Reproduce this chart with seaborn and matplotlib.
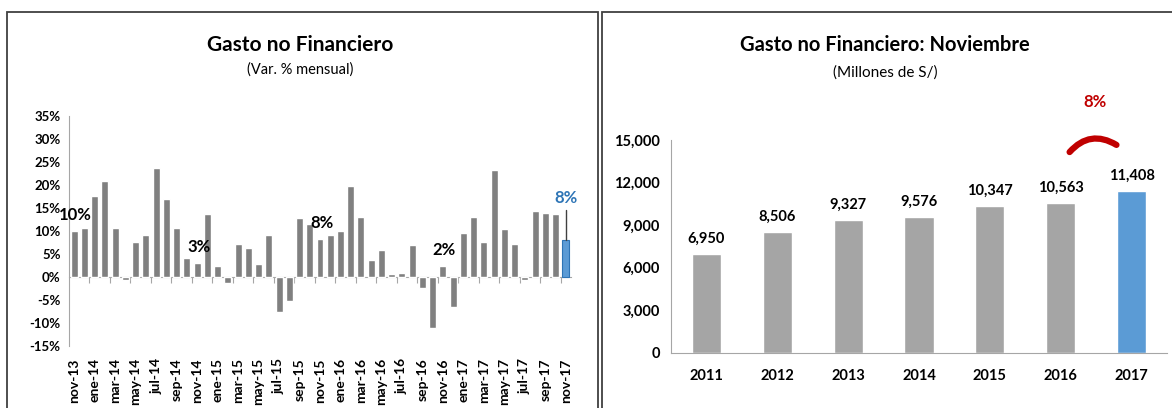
import numpy as np
import pandas as pd
import matplotlib
matplotlib.use("Agg")
import matplotlib.pyplot as plt
import seaborn as sns
from matplotlib.patches import Rectangle, FancyArrowPatch

# datos: variacion % mensual del gasto no financiero
meses = ['nov-13', 'dic-13', 'ene-14', 'feb-14', 'mar-14', 'abr-14', 'may-14', 'jun-14',
         'jul-14', 'ago-14', 'sep-14', 'oct-14', 'nov-14', 'dic-14', 'ene-15', 'feb-15',
         'mar-15', 'abr-15', 'may-15', 'jun-15', 'jul-15', 'ago-15', 'sep-15', 'oct-15',
         'nov-15', 'dic-15', 'ene-16', 'feb-16', 'mar-16', 'abr-16', 'may-16', 'jun-16',
         'jul-16', 'ago-16', 'sep-16', 'oct-16', 'nov-16', 'dic-16', 'ene-17', 'feb-17',
         'mar-17', 'abr-17', 'may-17', 'jun-17', 'jul-17', 'ago-17', 'sep-17', 'oct-17',
         'nov-17']
var_mensual = [9.9, 10.6, 17.6, 20.9, 10.6, -0.7, 7.5, 9.1, 23.7, 17.0, 10.6, 4.1, 2.9, 13.6,
               2.3, -1.3, 7.2, 6.3, 2.7, 9.1, -7.7, -5.3, 12.8, 11.4, 8.1, 9.1, 9.9, 19.7,
               13.0, 3.6, 5.7, 0.6, 0.8, 6.9, -2.5, -11.1, 2.3, -6.5, 9.6, 13.0, 7.5, 23.1,
               10.3, 7.2, -0.7, 14.3, 13.9, 13.6, 8.0]
meses_destacados = ['nov-13', 'nov-14', 'nov-15', 'nov-16']

# datos: gasto de noviembre (millones de S/)
anios = ['2011', '2012', '2013', '2014', '2015', '2016', '2017']
gasto_nov = [6950, 8506, 9327, 9576, 10347, 10563, 11408]
var_anual = '8%'

GRIS_OSC = '#808080'
GRIS = '#A5A5A5'
AZUL = '#5B9BD5'
ROJO = '#C00000'
EJE = '#A6A6A6'

sns.set_style("white")
plt.rcParams['font.family'] = ['Lato', 'DejaVu Sans']
plt.rcParams['text.color'] = 'black'
plt.rcParams['xtick.labelcolor'] = 'black'
plt.rcParams['ytick.labelcolor'] = 'black'

W, H = 1172, 408
fig = plt.figure(figsize=(W / 100, H / 100), dpi=100)

# marcos de los dos paneles
fig.patches.append(Rectangle((7 / W, -0.1), 591 / W, 1.1 - 12 / H, transform=fig.transFigure,
                             fill=False, edgecolor='#404040', lw=1.3))
fig.patches.append(Rectangle((602 / W, -0.1), 600 / W, 1.1 - 12 / H, transform=fig.transFigure,
                             fill=False, edgecolor='#404040', lw=1.3))

# ---------------- panel izquierdo ----------------
ax1 = fig.add_axes([69 / W, 62.3 / H, 502 / W, 230 / H])
df1 = pd.DataFrame({'mes': meses, 'var': var_mensual})
colores1 = [GRIS_OSC] * (len(meses) - 1) + [AZUL]
sns.barplot(data=df1, x='mes', y='var', hue='mes', palette=colores1, legend=False,
            width=0.68, saturation=1, ax=ax1)
ax1.patches[-1].set_edgecolor('#2E75B6')
ax1.patches[-1].set_linewidth(0.8)

ax1.set_xlim(-0.5, len(meses) - 0.5)
ax1.set_ylim(-15, 35)
ax1.set_yticks(range(-15, 40, 5))
ax1.set_yticklabels([f'{v}%' for v in range(-15, 40, 5)], fontsize=9.5, fontweight='bold')
ax1.set_xticks(range(0, len(meses), 2))
ax1.set_xticklabels(meses[::2], rotation=90, fontsize=10, fontweight='bold')
ax1.tick_params(axis='x', length=0, pad=9)
ax1.tick_params(axis='y', length=4, color=EJE, direction='out', pad=2)
ax1.set_xlabel('')
ax1.set_ylabel('')
for s in ['top', 'right', 'bottom']:
    ax1.spines[s].set_visible(False)
ax1.spines['left'].set_color(EJE)

# eje en cero con marcas cada dos meses
eje0 = ax1.secondary_xaxis(0.3)
eje0.set_xticks(np.arange(1.5, len(meses) - 1, 2))
eje0.set_xticklabels([])
eje0.tick_params(length=4, color=EJE, direction='out')
eje0.spines['bottom'].set_color(EJE)

for m in meses_destacados:
    i = meses.index(m)
    v = var_mensual[i]
    ax1.text(i + 0.15, v + 3.6, f'{round(v)}%', ha='center', va='center', fontsize=12,
             fontweight='bold')
iu = len(meses) - 1
vu = var_mensual[iu]
ax1.plot([iu, iu], [vu, vu + 6.5], color='#404040', lw=1)
ax1.text(iu, vu + 9.2, f'{round(vu)}%', ha='center', va='center', fontsize=12,
         fontweight='bold', color='#2E75B6')

fig.text(300 / W, 1 - 45 / H, 'Gasto no Financiero', ha='center', va='center',
         fontsize=15, fontweight='bold')
fig.text(300 / W, 1 - 70 / H, '(Var. % mensual)', ha='center', va='center', fontsize=10.5)

# ---------------- panel derecho ----------------
ax2 = fig.add_axes([671 / W, 55.3 / H, 496 / W, 212.7 / H])
df2 = pd.DataFrame({'anio': anios, 'gasto': gasto_nov})
colores2 = [GRIS] * (len(anios) - 1) + [AZUL]
sns.barplot(data=df2, x='anio', y='gasto', hue='anio', palette=colores2, legend=False,
            width=0.41, saturation=1, ax=ax2)
for c in ax2.containers:
    ax2.bar_label(c, labels=[f'{v:,.0f}' for v in c.datavalues], padding=6,
                  fontsize=10.5, fontweight='bold')

ax2.set_xlim(-0.5, len(anios) - 0.5)
ax2.set_ylim(0, 15000)
ax2.set_yticks(range(0, 15001, 3000))
ax2.set_yticklabels([f'{v:,}' for v in range(0, 15001, 3000)], fontsize=10.5, fontweight='bold')
ax2.set_xticks(range(len(anios)))
ax2.set_xticklabels(anios, fontsize=10.5, fontweight='bold')
ax2.set_xticks(np.arange(-0.5, len(anios), 1), minor=True)
ax2.tick_params(axis='x', which='major', length=0, pad=12)
ax2.tick_params(axis='x', which='minor', length=5, color=EJE, direction='out')
ax2.tick_params(axis='y', length=4, color=EJE, direction='out', pad=4)
ax2.set_xlabel('')
ax2.set_ylabel('')
for s in ['top', 'right']:
    ax2.spines[s].set_visible(False)
ax2.spines['left'].set_color(EJE)
ax2.spines['bottom'].set_color(EJE)

# flecha curva roja con la variacion anual
arco = FancyArrowPatch((5.1, 14000), (5.82, 14550), connectionstyle='arc3,rad=-0.45',
                       arrowstyle='-', color=ROJO, lw=4.5, clip_on=False, capstyle='round')
ax2.add_patch(arco)
ax2.text(5.48, 17700, var_anual, ha='center', va='center', fontsize=12,
         fontweight='bold', color=ROJO, clip_on=False)

fig.text(885 / W, 1 - 45 / H, 'Gasto no Financiero: Noviembre', ha='center', va='center',
         fontsize=14.5, fontweight='bold')
fig.text(885 / W, 1 - 73 / H, '(Millones de S/)', ha='center', va='center', fontsize=11)

fig.savefig('out.png', dpi=100)
